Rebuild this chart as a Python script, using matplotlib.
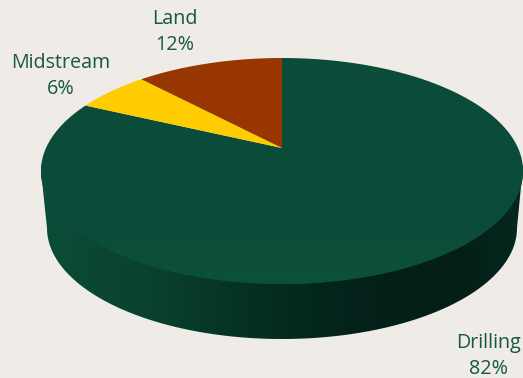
import numpy as np
import matplotlib
matplotlib.use("Agg")
import matplotlib.pyplot as plt
from matplotlib.colors import LinearSegmentedColormap
from matplotlib.patches import Polygon

categories = ["Drilling", "Midstream", "Land"]
shares = [82, 6, 12]
slice_colors = ["#0b4b39", "#ffcc00", "#973600"]

BG = "#efebe7"
TEXT = "#17593f"

fig = plt.figure(figsize=(5.23, 3.78), dpi=100, facecolor=BG)
ax = fig.add_axes([0, 0, 1, 1])
ax.set_xlim(0, 523)
ax.set_ylim(378, 0)
ax.axis("off")

# Perspective projection of the unit disc onto the pie's top face
CX, CY = 282.0, 148.0
K, C, D = 108.3, 0.2035, 236.0


def disc(angle_deg):
    """Map clockwise-from-north angles on the rim to page coordinates."""
    a = np.radians(angle_deg)
    return rim(np.sin(a), np.cos(a))


def rim(x, y):
    w = 1 + C * y
    return np.column_stack([CX + D * x / w, CY - K * y / w])


# Side wall: lower half of the base ellipse joined to the top face's extremes
t = np.radians(np.linspace(180, 0, 200))
base_x = 282 + 235 * np.cos(t)
base_y = 228 + 111 * np.sin(t)
wall = np.vstack([[[41, 171]], np.column_stack([base_x, base_y]), [[522.5, 171]]])
wall_patch = Polygon(wall, closed=True, facecolor="none", edgecolor="none")
ax.add_patch(wall_patch)

wall_cmap = LinearSegmentedColormap.from_list(
    "wall",
    [(0.00, "#0b4c38"), (0.22, "#0a412f"), (0.42, "#053122"),
     (0.65, "#03211a"), (0.85, "#031e16"), (1.00, "#05281e")],
)
# Fine stepped shading gives the wall a subtly faceted look
shade = np.floor(np.linspace(0, 1, 482) * 70) / 70
img = ax.imshow(shade[np.newaxis, :], cmap=wall_cmap, vmin=0, vmax=1, aspect="auto",
                extent=(41, 523, 345, 160), interpolation="nearest", zorder=1)
img.set_clip_path(wall_patch)
ax.set_xlim(0, 523)
ax.set_ylim(378, 0)

# Top-face slices, clockwise from north
start = 0.0
for share, color in zip(shares, slice_colors):
    sweep = 360.0 * share / sum(shares)
    arc = disc(np.linspace(start, start + sweep, 300))
    pts = np.vstack([[[CX, CY]], arc])
    ax.add_patch(Polygon(pts, closed=True, facecolor=color, edgecolor="none", zorder=2))
    start += sweep

# Slightly lighter sheen toward the front rim of the drilling slice
front = disc(np.linspace(60, 300, 300))
sheen = Polygon(front, closed=True, facecolor="none", edgecolor="none")
ax.add_patch(sheen)
sheen_cmap = LinearSegmentedColormap.from_list("sheen", ["#0b4b39", "#0b4b39", "#0b523a"])
yy = np.linspace(0, 1, 150)[:, np.newaxis]
overlay = ax.imshow(yy, cmap=sheen_cmap, aspect="auto", extent=(41, 523, 285, 165), zorder=3)
overlay.set_clip_path(sheen)
ax.set_xlim(0, 523)
ax.set_ylim(378, 0)

labels = {
    "Drilling": (488, 356),
    "Midstream": (61, 76),
    "Land": (175, 32),
}
for name, share in zip(categories, shares):
    x, y = labels[name]
    ax.text(x, y, f"{name}\n{share}%", ha="center", va="center", color=TEXT,
            fontsize=14.2, family="Open Sans", linespacing=1.38, zorder=5)

fig.savefig("out.png", dpi=100, facecolor=BG)
